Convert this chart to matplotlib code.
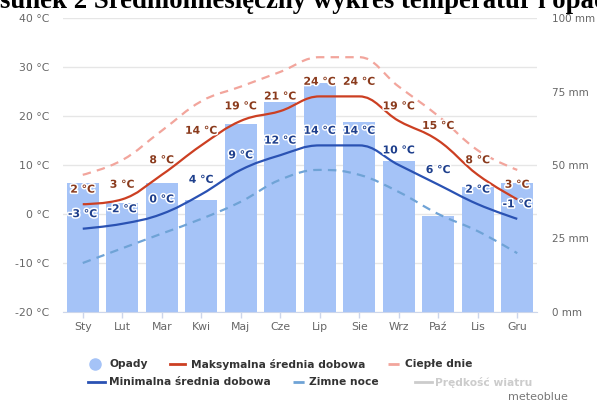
import numpy as np
import matplotlib
matplotlib.use("Agg")
import matplotlib.pyplot as plt
from matplotlib.path import Path
from matplotlib.patches import PathPatch
from matplotlib.lines import Line2D
import matplotlib.patheffects as pe

months = ["Sty", "Lut", "Mar", "Kwi", "Maj", "Cze", "Lip", "Sie", "Wrz", "Paź", "Lis", "Gru"]
precip_mm = [44, 37, 44, 38, 64, 71.5, 78, 64.5, 51.5, 32.5, 42.5, 44]
max_temp = [2, 3, 8, 14, 19, 21, 24, 24, 19, 15, 8, 3]
min_temp = [-3, -2, 0, 4, 9, 12, 14, 14, 10, 6, 2, -1]
warm_days = [8, 11, 17, 23, 26, 29, 32, 32, 26, 20, 13, 9]
cold_nights = [-10, -7, -4, -1, 2.5, 7, 9, 8, 4.5, 0, -3.5, -8]
temp_ticks = [-20, -10, 0, 10, 20, 30, 40]
precip_ticks = [0, 25, 50, 75, 100]

BAR = "#a5c3f7"
RED = "#cc3f22"
BLUE = "#2a52b3"
RED_D = "#f2a59c"
BLUE_D = "#6fa3d6"
GRID = "#e6e6e6"
AXC = "#ccd6eb"
TXT = "#666666"

W, H = 597, 403
fig = plt.figure(figsize=(W / 100, H / 100), dpi=100)

def fx(px):
    return px / W

def fy(py):
    return 1 - py / H

left, right, top, bottom = 63, 537, 18, 312
ax = fig.add_axes([fx(left), fy(bottom), fx(right - left), (bottom - top) / H])
ax2 = ax.twinx()

x = np.arange(len(months))

# temperature axis (left)
ax.set_xlim(-0.5, len(months) - 0.5)
ax.set_ylim(-20, 40)
ax.set_yticks(temp_ticks)
ax.set_yticklabels([f"{t} °C" for t in temp_ticks])
ax.yaxis.grid(True, color=GRID, lw=1)
ax.set_axisbelow(True)
ax.tick_params(axis="y", length=0, pad=10, labelsize=7.8, labelcolor=TXT)
ax.set_xticks(x)
ax.set_xticklabels(months)
ax.tick_params(axis="x", length=4, color=AXC, width=1, labelsize=7.8, labelcolor=TXT, pad=3)
for s in ["top", "left", "right"]:
    ax.spines[s].set_visible(False)
ax.spines["bottom"].set_color(AXC)

# precipitation axis (right)
ax2.set_ylim(0, 100)
ax2.set_yticks(precip_ticks)
ax2.set_yticklabels([f"{p} mm" for p in precip_ticks])
ax2.tick_params(axis="y", length=0, pad=11, labelsize=7.5, labelcolor=TXT)
for s in ["top", "left", "right", "bottom"]:
    ax2.spines[s].set_visible(False)
ax2.bar(x, precip_mm, width=0.8, color=BAR, zorder=1)


def spline_path(xs, ys):
    xs = np.asarray(xs, float)
    ys = np.asarray(ys, float)
    n = len(xs)
    lc = [(xs[i], ys[i]) for i in range(n)]
    rc = [(xs[i], ys[i]) for i in range(n)]
    sm, den = 1.5, 2.5
    for i in range(1, n - 1):
        px, py = xs[i], ys[i]
        lx, ly = xs[i - 1], ys[i - 1]
        nx, ny = xs[i + 1], ys[i + 1]
        lcx = (sm * px + lx) / den
        lcy = (sm * py + ly) / den
        rcx = (sm * px + nx) / den
        rcy = (sm * py + ny) / den
        corr = 0
        if rcx != lcx:
            corr = (rcy - lcy) * (rcx - px) / (rcx - lcx) + py - rcy
        lcy += corr
        rcy += corr
        if lcy > ly and lcy > py:
            lcy = max(ly, py); rcy = 2 * py - lcy
        elif lcy < ly and lcy < py:
            lcy = min(ly, py); rcy = 2 * py - lcy
        if rcy > ny and rcy > py:
            rcy = max(ny, py); lcy = 2 * py - rcy
        elif rcy < ny and rcy < py:
            rcy = min(ny, py); lcy = 2 * py - rcy
        lc[i] = (lcx, lcy)
        rc[i] = (rcx, rcy)
    verts = [(xs[0], ys[0])]
    codes = [Path.MOVETO]
    for i in range(1, n):
        verts += [rc[i - 1], lc[i], (xs[i], ys[i])]
        codes += [Path.CURVE4] * 3
    return Path(verts, codes)


def draw_series(vals, color, dashed=False, z=3):
    p = spline_path(x, vals)
    patch = PathPatch(p, facecolor="none", edgecolor=color, lw=1.6,
                      transform=ax.transData, zorder=z, capstyle="butt")
    if dashed:
        patch.set_linestyle((0, (3.8, 2.8)))
    ax2.add_patch(patch)


draw_series(warm_days, RED_D, dashed=True, z=2)
draw_series(cold_nights, BLUE_D, dashed=True, z=2)
draw_series(max_temp, RED, z=3)
draw_series(min_temp, BLUE, z=3)

for xi, v in zip(x, max_temp):
    ax2.annotate(f"{v} °C", xy=(xi, v), xycoords=ax.transData, xytext=(0, 10.5),
                 textcoords="offset points", ha="center", va="center", fontsize=7.8,
                 fontweight="bold", color="#8a3a1c", zorder=5,
                 path_effects=[pe.withStroke(linewidth=2.2, foreground="white")])
for xi, v in zip(x, min_temp):
    ax2.annotate(f"{v} °C", xy=(xi, v), xycoords=ax.transData, xytext=(0, 10.5),
                 textcoords="offset points", ha="center", va="center", fontsize=7.8,
                 fontweight="bold", color="#1e3f8c", zorder=5,
                 path_effects=[pe.withStroke(linewidth=2.2, foreground="white")])

# legend (drawn manually in figure pixels)
LT = "#333333"
def leg_line(x0, x1, y, color, dashed=False):
    ln = Line2D([fx(x0), fx(x1)], [fy(y), fy(y)], transform=fig.transFigure,
                color=color, lw=2, linestyle=(0, (4, 2)) if dashed else "-")
    fig.add_artist(ln)

def leg_text(x0, y, s, color=LT):
    fig.text(fx(x0), fy(y), s, ha="left", va="center", fontsize=7.7,
             fontweight="bold", color=color)

fig.add_artist(Line2D([fx(95)], [fy(364)], transform=fig.transFigure, marker="o",
                      markersize=8, color=BAR, linestyle="none"))
leg_text(109, 364, "Opady")
leg_line(170, 185, 364, RED)
leg_text(191, 364, "Maksymalna średnia dobowa")
leg_line(388, 402, 364, RED_D, dashed=True)
leg_text(405, 364, "Ciepłe dnie")
leg_line(88, 105, 382, BLUE)
leg_text(109, 382, "Minimalna średnia dobowa")
leg_line(293, 306, 382, BLUE_D, dashed=True)
leg_text(309, 382, "Zimne noce")
leg_line(415, 432, 382, "#cccccc")
leg_text(435, 382, "Prędkość wiatru", color="#cccccc")
fig.text(fx(568), fy(397), "meteoblue", ha="right", va="center", fontsize=8, color="#777777")

# cut-off caption at top
fig.text(fx(0), fy(8), "sunek 2 Średniomiesięczny wykres temperatur i opadów",
         ha="left", va="baseline", fontsize=19.3, fontweight="bold",
         family="Liberation Serif", color="black")

fig.savefig("out.png", dpi=100)
